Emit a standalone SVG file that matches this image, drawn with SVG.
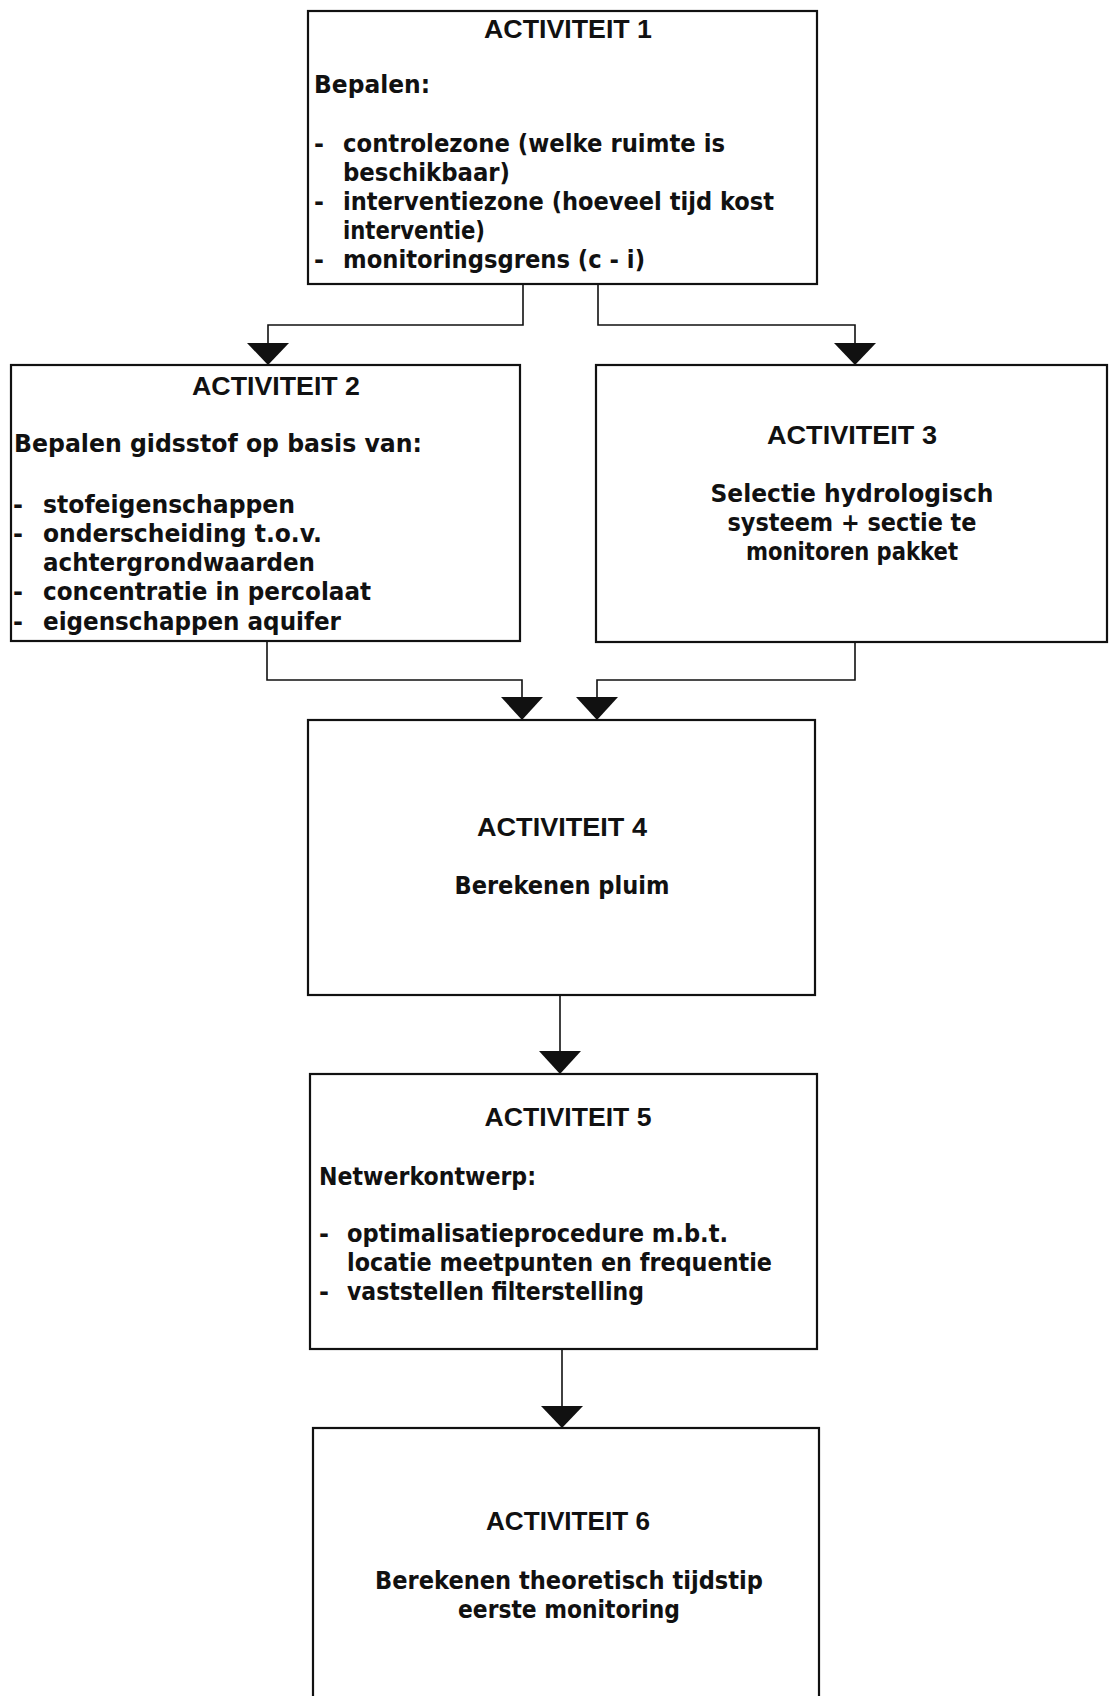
<svg xmlns="http://www.w3.org/2000/svg" width="1109" height="1696" viewBox="0 0 1109 1696">
<style>
.box{fill:#fff;stroke:#111;stroke-width:2.2}
.con{fill:none;stroke:#111;stroke-width:1.6}
.arr{fill:#111;stroke:none}
text{font-weight:bold;fill:#111}
.h{font-family:"Liberation Sans",Arial,sans-serif;font-size:26.5px;text-anchor:middle}
.t{font-family:"DejaVu Sans","Liberation Sans",sans-serif;font-size:24px}
.c{text-anchor:middle}
</style>
<rect width="1109" height="1696" fill="#fff"/>
<g id="connectors">
<polyline class="con" points="523,284 523,325 268,325 268,345"/>
<polygon class="arr" points="247,343 289,343 268,365"/>
<polyline class="con" points="598,284 598,325 855,325 855,345"/>
<polygon class="arr" points="834,343 876,343 855,365"/>
<polyline class="con" points="267,641 267,680 522,680 522,699"/>
<polygon class="arr" points="501,697 543,697 522,720"/>
<polyline class="con" points="855,642 855,680 597,680 597,699"/>
<polygon class="arr" points="576,697 618,697 597,720"/>
<line class="con" x1="560" y1="995" x2="560" y2="1052"/>
<polygon class="arr" points="539,1051 581,1051 560,1074"/>
<line class="con" x1="562" y1="1349" x2="562" y2="1408"/>
<polygon class="arr" points="541,1406 583,1406 562,1428"/>
</g>
<g id="node1">
<rect class="box" x="308" y="11" width="509" height="273"/>
<text class="h" x="568" y="38" textLength="168" lengthAdjust="spacingAndGlyphs">ACTIVITEIT 1</text>
<text class="t" x="314" y="93" textLength="116" lengthAdjust="spacingAndGlyphs">Bepalen:</text>
<text class="t" x="314" y="152">-</text>
<text class="t" x="343" y="152" textLength="382" lengthAdjust="spacingAndGlyphs">controlezone (welke ruimte is</text>
<text class="t" x="343" y="181" textLength="167" lengthAdjust="spacingAndGlyphs">beschikbaar)</text>
<text class="t" x="314" y="210">-</text>
<text class="t" x="343" y="210" textLength="431" lengthAdjust="spacingAndGlyphs">interventiezone (hoeveel tijd kost</text>
<text class="t" x="343" y="239" textLength="142" lengthAdjust="spacingAndGlyphs">interventie)</text>
<text class="t" x="314" y="268">-</text>
<text class="t" x="343" y="268" textLength="302" lengthAdjust="spacingAndGlyphs">monitoringsgrens (c - i)</text>
</g>
<g id="node2">
<rect class="box" x="11" y="365" width="509" height="276"/>
<text class="h" x="276" y="395" textLength="168" lengthAdjust="spacingAndGlyphs">ACTIVITEIT 2</text>
<text class="t" x="14" y="452" textLength="408" lengthAdjust="spacingAndGlyphs">Bepalen gidsstof op basis van:</text>
<text class="t" x="13" y="513">-</text>
<text class="t" x="43" y="513" textLength="252" lengthAdjust="spacingAndGlyphs">stofeigenschappen</text>
<text class="t" x="13" y="542">-</text>
<text class="t" x="43" y="542" textLength="279" lengthAdjust="spacingAndGlyphs">onderscheiding t.o.v.</text>
<text class="t" x="43" y="571" textLength="272" lengthAdjust="spacingAndGlyphs">achtergrondwaarden</text>
<text class="t" x="13" y="600">-</text>
<text class="t" x="43" y="600" textLength="328" lengthAdjust="spacingAndGlyphs">concentratie in percolaat</text>
<text class="t" x="13" y="630">-</text>
<text class="t" x="43" y="630" textLength="298" lengthAdjust="spacingAndGlyphs">eigenschappen aquifer</text>
</g>
<g id="node3">
<rect class="box" x="596" y="365" width="511" height="277"/>
<text class="h" x="852" y="444" textLength="170" lengthAdjust="spacingAndGlyphs">ACTIVITEIT 3</text>
<text class="t c" x="852" y="502" textLength="283" lengthAdjust="spacingAndGlyphs">Selectie hydrologisch</text>
<text class="t c" x="852" y="531" textLength="249" lengthAdjust="spacingAndGlyphs">systeem + sectie te</text>
<text class="t c" x="852" y="560" textLength="212" lengthAdjust="spacingAndGlyphs">monitoren pakket</text>
</g>
<g id="node4">
<rect class="box" x="308" y="720" width="507" height="275"/>
<text class="h" x="562" y="836" textLength="170" lengthAdjust="spacingAndGlyphs">ACTIVITEIT 4</text>
<text class="t c" x="562" y="894" textLength="215" lengthAdjust="spacingAndGlyphs">Berekenen pluim</text>
</g>
<g id="node5">
<rect class="box" x="310" y="1074" width="507" height="275"/>
<text class="h" x="568" y="1126" textLength="167" lengthAdjust="spacingAndGlyphs">ACTIVITEIT 5</text>
<text class="t" x="319" y="1185" textLength="217" lengthAdjust="spacingAndGlyphs">Netwerkontwerp:</text>
<text class="t" x="319" y="1242">-</text>
<text class="t" x="347" y="1242" textLength="381" lengthAdjust="spacingAndGlyphs">optimalisatieprocedure m.b.t.</text>
<text class="t" x="347" y="1271" textLength="425" lengthAdjust="spacingAndGlyphs">locatie meetpunten en frequentie</text>
<text class="t" x="319" y="1300">-</text>
<text class="t" x="347" y="1300" textLength="297" lengthAdjust="spacingAndGlyphs">vaststellen filterstelling</text>
</g>
<g id="node6">
<rect class="box" x="313" y="1428" width="506" height="280"/>
<text class="h" x="568" y="1530" textLength="164" lengthAdjust="spacingAndGlyphs">ACTIVITEIT 6</text>
<text class="t c" x="569" y="1589" textLength="388" lengthAdjust="spacingAndGlyphs">Berekenen theoretisch tijdstip</text>
<text class="t c" x="569" y="1618" textLength="222" lengthAdjust="spacingAndGlyphs">eerste monitoring</text>
</g>
</svg>
